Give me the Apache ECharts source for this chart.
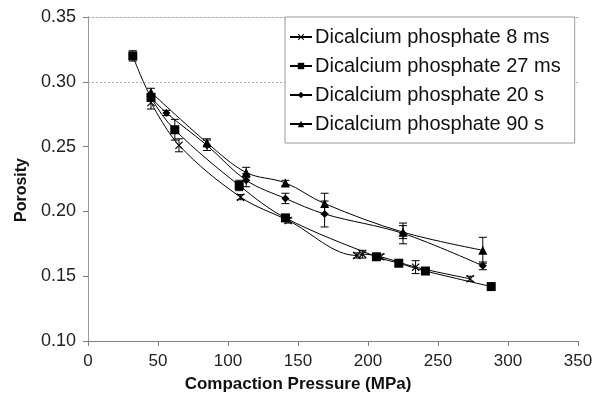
<!DOCTYPE html>
<html>
<head>
<meta charset="utf-8">
<script src="https://cdn.jsdelivr.net/npm/echarts@6/dist/echarts.min.js"></script>
<style>html,body{margin:0;padding:0;background:#fff;}#c{width:596px;height:400px;}</style>
</head>
<body>
<div id="c"></div>
<script>
// ---- data ----
var seriesNames = ['Dicalcium phosphate 8 ms', 'Dicalcium phosphate 27 ms', 'Dicalcium phosphate 20 s', 'Dicalcium phosphate 90 s'];

var pressure8ms = [45, 65, 109, 143, 192, 196, 209, 234, 273];
var porosity8ms = [0.284, 0.251, 0.211, 0.193, 0.166, 0.167, 0.165, 0.157, 0.148];
var err8ms      = [0.005, 0.005, 0.002, 0.002, 0.002, 0.003, 0.002, 0.005, 0.002];

var pressure27ms = [32, 45, 62, 108, 141, 206, 222, 241, 288];
var porosity27ms = [0.320, 0.288, 0.263, 0.220, 0.195, 0.165, 0.160, 0.154, 0.142];
var err27ms      = [0.004, 0.003, 0.008, 0.004, 0.002, 0.001, 0.002, 0.002, 0.001];

var pressure20s = [45, 56, 85, 113, 141, 169, 225, 282];
var porosity20s = [0.288, 0.276, 0.251, 0.224, 0.210, 0.198, 0.183, 0.158];
var err20s      = [0.003, 0.002, 0.004, 0.005, 0.004, 0.010, 0.008, 0.003];

var pressure90s = [45, 85, 113, 141, 169, 225, 282];
var porosity90s = [0.292, 0.253, 0.230, 0.222, 0.206, 0.184, 0.170];
var err90s      = [0.003, 0.003, 0.004, 0.002, 0.008, 0.005, 0.010];

var xTicks = [0, 50, 100, 150, 200, 250, 300, 350];
var yTicks = [0.10, 0.15, 0.20, 0.25, 0.30, 0.35];
var gridValues = [0.30];
var xTitle = 'Compaction Pressure (MPa)';
var yTitle = 'Porosity';

// ---- build ----
var crossPath = 'path://M0,1L1,0L10,9L9,10Z M9,0L10,1L1,10L0,9Z';
var symbols = [crossPath, 'rect', 'diamond', 'triangle'];
var symbolSizes = [8, 9, 8, 9];
var pressures = [pressure8ms, pressure27ms, pressure20s, pressure90s];
var porosities = [porosity8ms, porosity27ms, porosity20s, porosity90s];
var errs = [err8ms, err27ms, err20s, err90s];

function zip(a, b, c) {
  return a.map(function (v, i) { return c ? [v, b[i], c[i]] : [v, b[i]]; });
}

function renderErr(params, api) {
  var x = api.value(0), y = api.value(1), e = api.value(2);
  var t = api.coord([x, y + e]);
  var b = api.coord([x, y - e]);
  var w = 4;
  var st = { stroke: '#000', lineWidth: 1 };
  return {
    type: 'group',
    children: [
      { type: 'line', shape: { x1: t[0], y1: t[1], x2: b[0], y2: b[1] }, style: st },
      { type: 'line', shape: { x1: t[0] - w, y1: t[1], x2: t[0] + w, y2: t[1] }, style: st },
      { type: 'line', shape: { x1: b[0] - w, y1: b[1], x2: b[0] + w, y2: b[1] }, style: st }
    ]
  };
}

var series = [];
seriesNames.forEach(function (name, i) {
  series.push({
    type: 'custom',
    name: name + ' err',
    renderItem: renderErr,
    data: zip(pressures[i], porosities[i], errs[i]),
    z: 3,
    silent: true
  });
});
seriesNames.forEach(function (name, i) {
  series.push({
    type: 'line',
    name: name,
    data: zip(pressures[i], porosities[i]),
    smooth: 0.35,
    symbol: symbols[i],
    symbolSize: symbolSizes[i],
    showAllSymbol: true,
    lineStyle: { color: '#000', width: 1 },
    itemStyle: { color: '#000' },
    z: 4,
    markLine: i === 0 ? {
      silent: true,
      symbol: 'none',
      label: { show: false },
      lineStyle: { color: '#aaa', type: [2, 2], width: 1 },
      data: gridValues.map(function (v) { return { yAxis: v }; })
    } : undefined
  });
});

var font = 'Liberation Sans, Arial, sans-serif';
var chart = echarts.init(document.getElementById('c'), null, { renderer: 'canvas' });
chart.setOption({
  animation: false,
  backgroundColor: '#fff',
  grid: { left: 88, right: 18, top: 17, bottom: 59, containLabel: false },
  legend: {
    data: seriesNames,
    orient: 'vertical',
    left: 285,
    top: 17,
    padding: [10, 14, 9, 4],
    itemGap: 9,
    itemWidth: 22,
    itemHeight: 8,
    backgroundColor: '#fff',
    borderColor: '#999',
    borderWidth: 1,
    z: 10,
    textStyle: { fontFamily: font, fontSize: 20, color: '#111', padding: [0, 0, 0, -2] }
  },
  graphic: [{
    type: 'text', x: 298, y: 384,
    style: { text: xTitle, fontFamily: font, fontSize: 17, fontWeight: 'bold', fill: '#111',
      textAlign: 'center', textVerticalAlign: 'middle' }
  }, {
    type: 'text', x: 22, y: 190, rotation: Math.PI / 2,
    style: { text: yTitle, fontFamily: font, fontSize: 16, fontWeight: 'bold', fill: '#111',
      textAlign: 'center', textVerticalAlign: 'middle' }
  }],
  xAxis: [{
    type: 'value', min: 0, max: 350, interval: 50,
    axisLine: { show: true, lineStyle: { color: '#808080', width: 1 } },
    axisTick: { show: true, inside: false, length: 5, lineStyle: { color: '#808080' } },
    axisLabel: { fontFamily: font, fontSize: 17, color: '#222', margin: 12,
      formatter: function (v) { return xTicks.indexOf(v) >= 0 ? String(v) : ''; } },
    splitLine: { show: false }
  }, {
    type: 'value', min: 0, max: 350, position: 'top',
    axisLine: { show: true, lineStyle: { color: '#aaa', width: 1, type: [2, 2] } },
    axisTick: { show: false }, axisLabel: { show: false }, splitLine: { show: false }
  }],
  yAxis: [{
    type: 'value', min: 0.10, max: 0.35, interval: 0.05,
    axisLine: { show: true, lineStyle: { color: '#808080', width: 1 } },
    axisTick: { show: true, inside: false, length: 5, lineStyle: { color: '#808080' } },
    axisLabel: { fontFamily: font, fontSize: 18, color: '#222', margin: 12,
      formatter: function (v) {
        for (var k = 0; k < yTicks.length; k++) { if (Math.abs(yTicks[k] - v) < 1e-9) return yTicks[k].toFixed(2); }
        return '';
      } },
    splitLine: { show: false }
  }, {
    type: 'value', min: 0.10, max: 0.35, position: 'right',
    axisLine: { show: true, lineStyle: { color: '#999', width: 1 } },
    axisTick: { show: false }, axisLabel: { show: false }, splitLine: { show: false }
  }],
  series: series
});
</script>
</body>
</html>
